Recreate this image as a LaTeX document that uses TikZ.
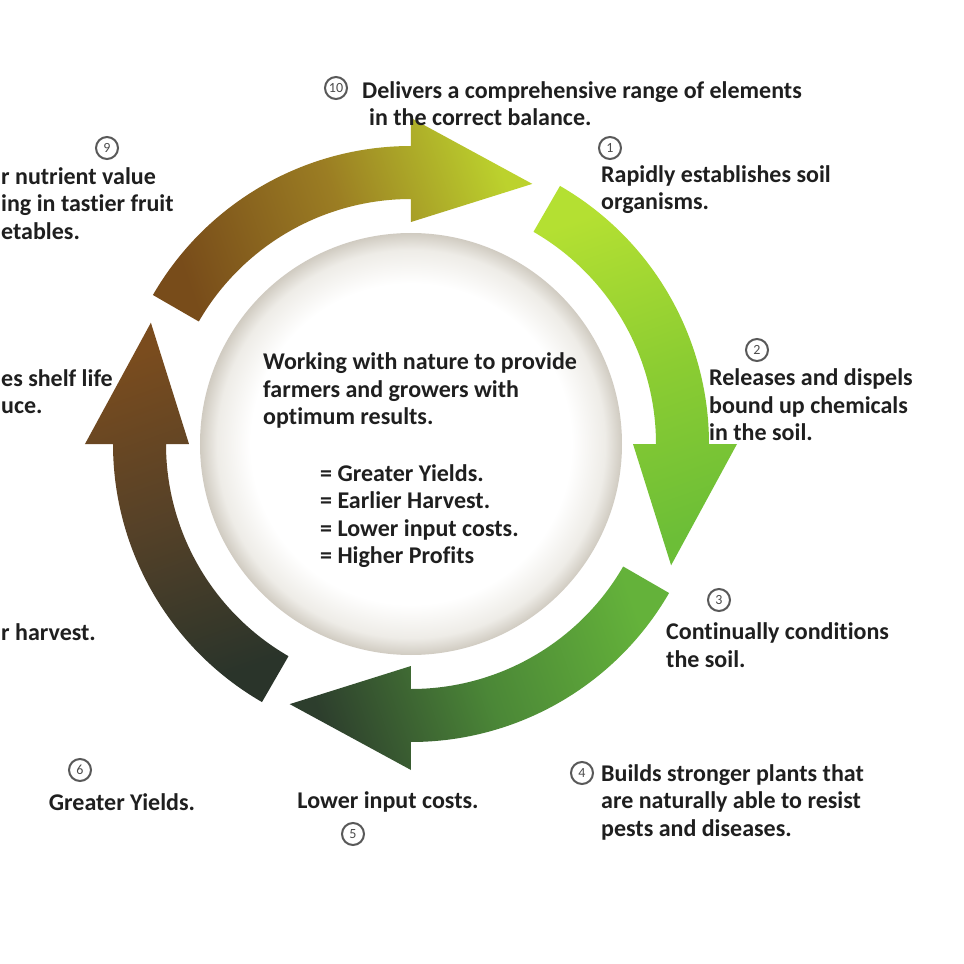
\documentclass[tikz,border=0pt]{standalone}
\usepackage{fontspec}
\setmainfont{Carlito}[Ligatures=NoCommon]
\definecolor{arrAa}{RGB}{120,76,26}
\definecolor{arrAb}{RGB}{155,125,35}
\definecolor{arrAc}{RGB}{188,210,45}
\definecolor{arrBa}{RGB}{180,224,50}
\definecolor{arrBb}{RGB}{140,205,50}
\definecolor{arrBc}{RGB}{108,190,55}
\definecolor{arrCa}{RGB}{100,178,58}
\definecolor{arrCb}{RGB}{75,135,55}
\definecolor{arrCc}{RGB}{45,62,45}
\definecolor{arrDa}{RGB}{42,52,42}
\definecolor{arrDb}{RGB}{85,65,40}
\definecolor{arrDc}{RGB}{122,76,30}
\definecolor{rimA}{RGB}{238,236,231}
\definecolor{rimB}{RGB}{208,203,193}
\pgfdeclareradialshading{ballshade}{\pgfpoint{0bp}{0bp}}{color(0bp)=(white); color(19bp)=(white); color(23bp)=(rimA); color(25bp)=(rimB); color(50bp)=(rimB)}
\tikzset{
	txt/.style={font=\bfseries\fontsize{24}{27.5}\selectfont, text=black!88, align=left, anchor=west, inner sep=0pt},
	numc/.style={circle, draw=black!65, line width=2pt, minimum size=22pt, inner sep=0pt, font=\fontsize{14}{14}\selectfont, text=black!70}
}
\begin{document}
\begin{tikzpicture}[x=1pt,y=1pt,declare function={ro=298; ri=245; wo=326; wi=222; rt=287; rb=211;}]
	\fill[white] (-411,-520) rectangle (553,444);
	\useasboundingbox (-411,-520) rectangle (553,444);
	\coordinate (O) at (0,0);
	\shade[shading=ballshade] (O) circle (rb);
	\foreach \t/\ca/\cb/\cc/\sa in {150/arrAa/arrAb/arrAc/-70.6,60/arrBa/arrBb/arrBc/-160.6,-30/arrCa/arrCb/arrCc/109.4,-120/arrDa/arrDb/arrDc/19.4}
	\shade[bottom color=\ca, top color=\cc, middle color=\cb, shading angle=\sa]
		(\t:ro) arc[start angle=\t, end angle=\t-60, radius=ro] -- (\t-60:wo) -- (\t-85:rt)
		-- (\t-60:wi) -- (\t-60:ri) arc[start angle=\t-60, end angle=\t, radius=ri] -- cycle;
	\foreach \n/\x/\y in {10/-75/356,9/-304/296,1/199/296,2/346/94,3/308/-156,4/171/-329,5/-58/-390,6/-331/-326}
	\node[numc] (n\n) at (\x,\y) {\n};
	\node[txt] (t10) at (-49,340.5) {Delivers a comprehensive range of elements\\\hspace*{7pt}in the correct balance.};
	\node[txt] (t9) at (-410,240.7) {r nutrient value\\ing in tastier fruit\\etables.};
	\node[txt] (t8) at (-410,52.5) {es shelf life\\uce.};
	\node[txt] (t7) at (-410,-188) {r harvest.};
	\node[txt] (t1) at (190,254.5) {Rapidly establishes soil\\organisms.};
	\node[txt] (t2) at (298,39) {Releases and dispels\\bound up chemicals\\in the soil.};
	\node[txt] (t3) at (255,-201) {Continually conditions\\the soil.};
	\node[txt] (t4) at (190,-358) {Builds stronger plants that\\are naturally able to resist\\pests and diseases.};
	\node[txt,anchor=center] (t5) at (-23,-358) {Lower input costs.};
	\node[txt,anchor=center] (t6) at (-289,-358) {Greater Yields.};
	\node[txt] (tc) at (-148,53.3) {Working with nature to provide\\farmers and growers with\\optimum results.};
	\node[txt] (tr) at (-91,-72) {= Greater Yields.\\= Earlier Harvest.\\= Lower input costs.\\= Higher Profits};
\end{tikzpicture}
\end{document}
